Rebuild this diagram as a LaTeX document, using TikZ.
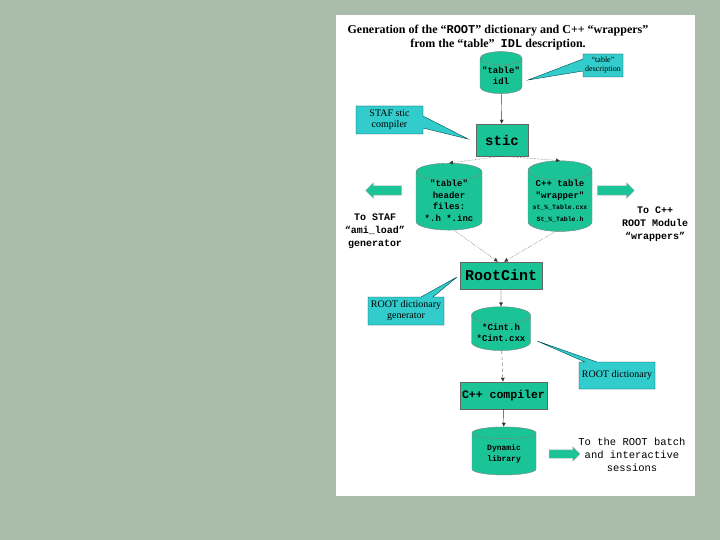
\documentclass[tikz,border=0pt]{standalone}
\usepackage{fontspec}
\setmainfont{Liberation Serif}
\setmonofont{Liberation Mono}
\usetikzlibrary{arrows.meta,positioning,shapes.geometric,shapes.callouts,shapes.arrows}
\definecolor{slidebg}{RGB}{170,189,170}
\definecolor{stepc}{RGB}{26,196,150}
\definecolor{notec}{RGB}{51,204,204}

\begin{document}
\begin{tikzpicture}[x=1pt,y=-1pt,>=Latex,
  procbox/.style={draw=black!60,fill=stepc,font=\ttfamily\bfseries,inner sep=0pt},
  store/.style={cylinder,shape border rotate=90,aspect=0.35,draw=black!50,fill=stepc,
    inner sep=0pt,align=center,font=\ttfamily\bfseries\fontsize{9}{11.5}\selectfont},
  note/.style={rectangle callout,draw=teal!60!black,fill=notec,align=center,inner sep=1pt,
    callout pointer width=12pt,font=\fontsize{10}{11}\selectfont},
  fat/.style={single arrow,draw=black!30,fill=stepc,inner xsep=0pt,inner ysep=4.5pt,
    minimum width=0pt,single arrow head extend=3pt},
  side/.style={align=center,font=\ttfamily\bfseries\fontsize{10}{13}\selectfont},
  flow/.style={->,black!80,>={Latex[length=4pt,width=4pt]}},
  dflow/.style={flow,densely dotted}]
% slide and page
\fill[slidebg] (0,0) rectangle (720,540);
\fill[white] (336,15) rectangle (695,496);
\node[align=center,font=\bfseries\fontsize{12}{14}\selectfont] (title) at (498,38)
  {Generation of the “\texttt{ROOT}” dictionary and C++ “wrappers”\\
   from the “table”\ \ \texttt{IDL} description.};
% main chain
\node[store,minimum width=42pt,minimum height=42pt] (idl) at (501,76) {"table"\\idl};
\node[procbox,minimum width=52pt,minimum height=32pt,font=\ttfamily\bfseries\fontsize{14}{14}\selectfont] (stic) at (502,140) {stic};
\node[store,minimum width=66pt,minimum height=57pt] (hdr) at (449,201) {"table"\\header\\files:\\*.h *.inc};
\node[store,minimum width=64pt,minimum height=57pt] (wrp) at (560,201)
  {C++ table\\"wrapper"\\{\fontsize{6.5}{9}\selectfont st\_\%\_Table.cxx}\\{\fontsize{6.5}{9}\selectfont St\_\%\_Table.h}};
\node[procbox,minimum width=82pt,minimum height=27pt,font=\ttfamily\bfseries\fontsize{15}{15}\selectfont] (rcint) at (501,275.5) {RootCint};
\node[store,minimum width=59pt,minimum height=40pt] (cint) at (501,333) {*Cint.h\\*Cint.cxx};
\node[procbox,minimum width=87pt,minimum height=27pt,font=\ttfamily\bfseries\fontsize{11.5}{12}\selectfont] (cxx) at (503.5,395.5) {C++ compiler};
\node[store,minimum width=64pt,minimum height=48pt,font=\ttfamily\bfseries\fontsize{8}{11}\selectfont] (dyn) at (504,454) {Dynamic\\library};
\draw[flow] (idl) -- (stic);
\draw[dflow] (stic.south) -- (hdr.north);
\draw[dflow] (stic.south) -- (wrp.north);
\draw[dflow] (hdr.south) ++(5,0) -- ([xshift=-3pt]rcint.north);
\draw[dflow] (wrp.south) ++(-5,0) -- ([xshift=3pt]rcint.north);
\draw[flow] (rcint) -- (cint);
\draw[flow,dashed] (cint) -- (cxx);
\draw[flow] (cxx) -- (dyn);
% callouts
\node[note,minimum width=40pt,minimum height=23pt,font=\fontsize{8}{9}\selectfont,
  callout absolute pointer={(528,80)}] (n1) at (603,65.5) {“table”\\description};
\node[note,minimum width=67pt,minimum height=28pt,callout absolute pointer={(468,139)}] (n2) at (389.5,120) {STAF stic\\compiler};
\node[note,minimum width=76pt,minimum height=28pt,callout absolute pointer={(457,277)}] (n3) at (406,311) {ROOT dictionary\\generator};
\node[note,minimum width=76pt,minimum height=27pt,callout absolute pointer={(537,341)}] (n4) at (617,375.5) {ROOT dictionary};
% outputs
\node[fat,shape border rotate=180,minimum height=36pt] (toleft) at (386,190.5) {};
\node[fat,minimum height=37pt] (toright) at (613.5,190.5) {};
\node[fat,minimum height=31pt,inner ysep=4pt] (tobot) at (562.5,454) {};
\node[side] (staf) at (375,231) {To STAF\\“ami\_load”\\generator};
\node[side] (mod) at (655,224) {To C++\\ROOT Module\\“wrappers”};
\node[side,font=\ttfamily\fontsize{10.5}{13}\selectfont] (sess) at (632,455) {To the ROOT batch\\and interactive\\sessions};
\end{tikzpicture}
\end{document}
